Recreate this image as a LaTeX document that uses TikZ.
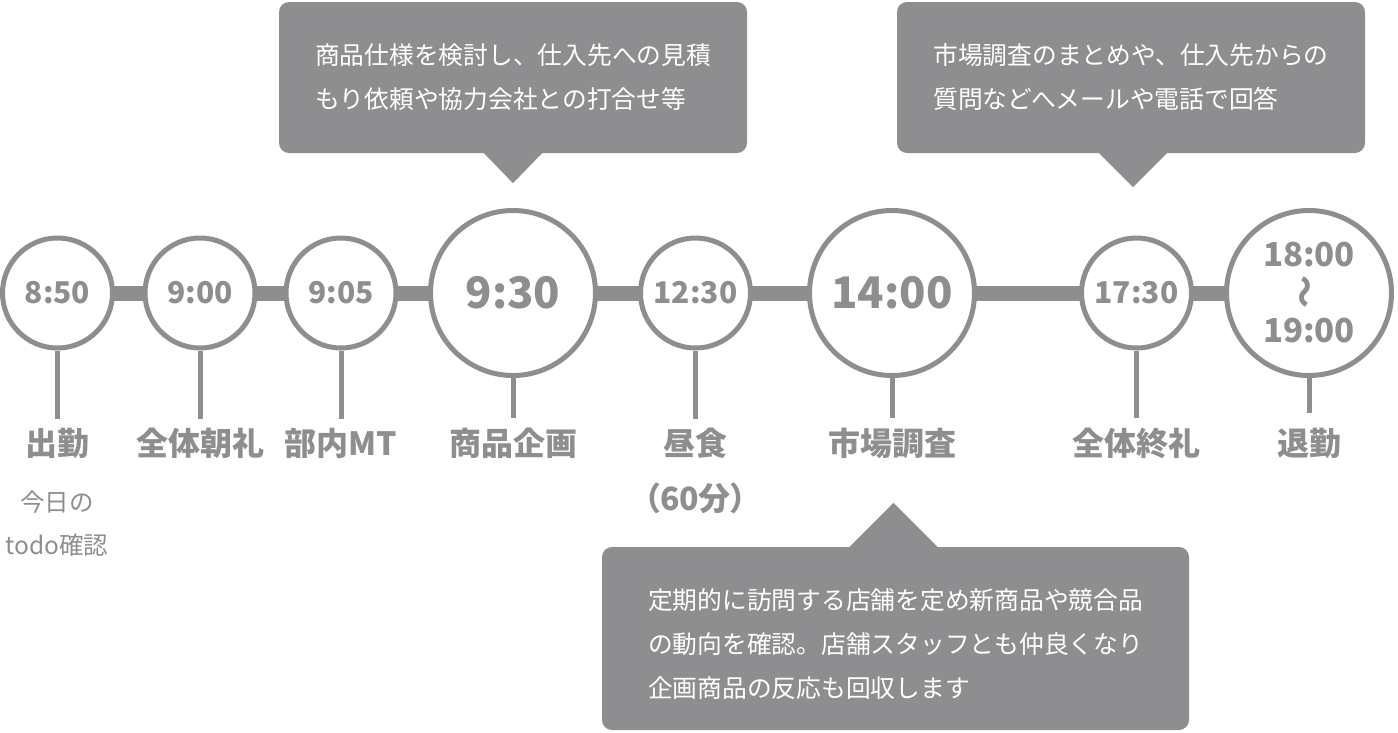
\documentclass[tikz,border=0pt]{standalone}
\usepackage{fontspec}
\setmainfont{Noto Sans CJK JP}
\usepackage{graphicx}
\usetikzlibrary{positioning}
\definecolor{dailygray}{RGB}{142,142,144}

\begin{document}
\begin{tikzpicture}[x=1pt,y=-1pt,
    dot/.style={circle,draw=dailygray,line width=5pt,fill=white,
                minimum size=110pt,inner sep=0pt,text=dailygray,
                font=\fontsize{30}{30}\selectfont\bfseries},
    bigdot/.style={dot,minimum size=165pt,
                font=\fontsize{43.5}{43.5}\selectfont\bfseries},
    tag/.style={text=dailygray,inner xsep=0pt,inner ysep=9pt,
                font=\fontsize{32}{38}\selectfont\bfseries},
    note/.style={text=dailygray,align=center,
                font=\fontsize{24.5}{43}\selectfont},
    memo/.style={fill=dailygray,rounded corners=10pt,text=white,
                align=left,font=\fontsize{24.75}{44}\selectfont},
    bar/.style={dailygray,line width=15pt,shorten <=-2pt,shorten >=-2pt},
    stem/.style={dailygray,line width=5pt}
  ]
    \useasboundingbox (0,0) rectangle (1398,732);

    \node[dot] (c850) at (57.5,293) {8:50};
    \node[dot] (c900) at (200,293) {9:00};
    \node[dot] (c905) at (341,293) {9:05};
    \node[bigdot] (c930) at (513,293) {9:30};
    \node[dot] (c1230) at (695.5,293) {12:30};
    \node[bigdot] (c1400) at (892,293) {14:00};
    \node[dot] (c1730) at (1136.5,293) {17:30};
    \node[bigdot,align=center,font=\fontsize{33}{38}\selectfont\bfseries]
      (c1800) at (1309,293) {18:00\\\raisebox{-4pt}{\rotatebox{90}{～}}\\19:00};

    \draw[bar] (c850) -- (c900);
    \draw[bar] (c900) -- (c905);
    \draw[bar] (c905) -- (c930);
    \draw[bar] (c930) -- (c1230);
    \draw[bar] (c1230) -- (c1400);
    \draw[bar] (c1400) -- (c1730);
    \draw[bar] (c1730) -- (c1800);

    \node[tag] (t850) at (57.5,443) {出勤};
    \node[tag] (t900) at (200,443) {全体朝礼};
    \node[tag] (t905) at (341,443) {部内MT};
    \node[tag] (t930) at (513,443) {商品企画};
    \node[tag] (t1230) at (695.5,443) {昼食};
    \node[tag] (t1400) at (892,443) {市場調査};
    \node[tag] (t1730) at (1136.5,443) {全体終礼};
    \node[tag] (t1800) at (1309,443) {退勤};

    \draw[stem] (c850) -- (t850);
    \draw[stem] (c900) -- (t900);
    \draw[stem] (c905) -- (t905);
    \draw[stem] (c930) -- (t930);
    \draw[stem] (c1230) -- (t1230);
    \draw[stem] (c1400) -- (t1400);
    \draw[stem] (c1730) -- (t1730);
    \draw[stem,shorten >=6pt] (c1800) -- (t1800);

    \node[note] (n850) at (57,524) {今日の\\todo確認};
    \node[tag,inner ysep=0pt] (n1230) at (695.5,498)
      {\addfontfeature{RawFeature=+palt}（60分）};

    % callouts
    \node[memo,minimum width=468pt,minimum height=151pt] (m930) at (513,77.5)
      {商品仕様を検討し、仕入先への見積\\もり依頼や協力会社との打合せ等};
    \fill[dailygray] ([xshift=-30pt,yshift=1pt]m930.south)
      -- ([xshift=30pt,yshift=1pt]m930.south) -- ([yshift=-30pt]m930.south) -- cycle;

    \node[memo,minimum width=468pt,minimum height=151pt] (m1730) at (1131,77.5)
      {市場調査のまとめや、仕入先からの\\質問などへメールや電話で回答};
    \fill[dailygray] ([xshift=-33pt,yshift=1pt]m1730.south)
      -- ([xshift=37pt,yshift=1pt]m1730.south) -- ([xshift=2pt,yshift=-34pt]m1730.south) -- cycle;

    \node[memo,minimum width=587pt,minimum height=183pt] (m1400) at (895.5,638.5)
      {\rule{0pt}{32pt}定期的に訪問する店舗を定め新商品や競合品\\の動向を確認。店舗スタッフとも仲良くなり\\企画商品の反応も回収します};
    \fill[dailygray] ([xshift=-47pt,yshift=-1pt]m1400.north)
      -- ([xshift=43pt,yshift=-1pt]m1400.north) -- ([xshift=-2pt,yshift=44pt]m1400.north) -- cycle;
\end{tikzpicture}
\end{document}
